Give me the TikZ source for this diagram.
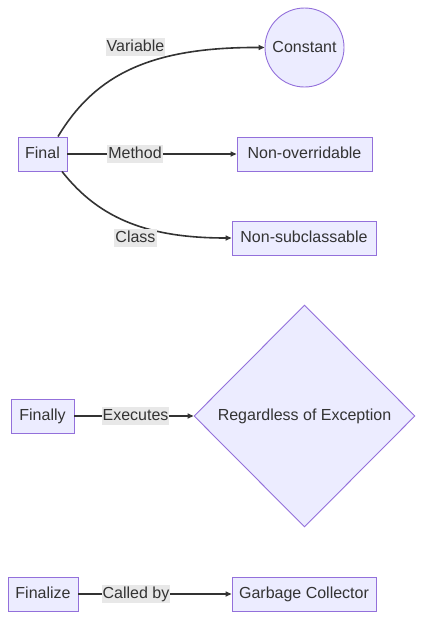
\documentclass[tikz,border=0pt]{standalone}
\usepackage{fontspec}
\setmainfont{Liberation Sans}
\usetikzlibrary{shapes.geometric,arrows.meta}
\definecolor{nodefill}{HTML}{ECECFF}
\definecolor{nodeline}{HTML}{9370DB}
\definecolor{edgecol}{HTML}{333333}
\definecolor{lblbg}{HTML}{E8E8E8}
\tikzset{
  txt/.style={font=\fontsize{16}{19}\selectfont, text=edgecol, text height=12.5pt, text depth=3pt},
  box/.style={txt, draw=nodeline, fill=nodefill, line width=0.9pt, rectangle, minimum height=34pt, inner xsep=7pt},
  circ/.style={txt, draw=nodeline, fill=nodefill, line width=0.9pt, circle, minimum size=79pt, inner sep=0pt},
  diam/.style={txt, draw=nodeline, fill=nodefill, line width=0.9pt, diamond, minimum width=221pt, minimum height=222pt, inner sep=0pt},
  lbl/.style={txt, fill=lblbg, inner xsep=1pt, inner ysep=1.5pt},
  edge/.style={draw=edgecol, line width=1.6pt, -{Triangle[length=6pt,width=5pt]}}
}
\begin{document}
\begin{tikzpicture}[x=1pt,y=1pt]
\useasboundingbox (0,0) rectangle (423,-619);
% nodes
\node[box, minimum width=49pt, inner xsep=0pt] (final) at (42.5,-154) {Final};
\node[circ] (const) at (304.5,-47.5) {Constant};
\node[box, minimum width=135pt] (nonover) at (304.5,-154) {Non-overridable};
\node[box, minimum width=144pt] (nonsub) at (304,-238) {Non-subclassable};
\node[box, minimum width=63pt, inner xsep=0pt] (finally) at (42.5,-416) {Finally};
\node[diam] (regard) at (304.5,-416) {Regardless of Exception};
\node[box, minimum width=70pt, inner xsep=0pt] (finalize) at (43,-594) {Finalize};
\node[box, minimum width=144pt] (gc) at (304,-594) {Garbage Collector};
% edges
\draw[edge] (final.north) ++(15.5,0) coordinate (fv) (fv) .. controls (95,-75) and (150,-47) .. (const.west);
\draw[edge] (final.east) -- (nonover.west);
\draw[edge] (final.south) ++(19.5,0) coordinate (fc) (fc) .. controls (100,-220) and (150,-238) .. (nonsub.west);
\draw[edge] (finally.east) -- (regard.west);
\draw[edge] (finalize.east) -- (gc.west);
% labels
\node[lbl] (lv) at (135.5,-47) {Variable};
\node[lbl] (lm) at (135,-154) {Method};
\node[lbl] (lc) at (135.5,-238) {Class};
\node[lbl] (le) at (135.5,-416) {Executes};
\node[lbl] (lb) at (136,-594) {Called by};
\end{tikzpicture}
\end{document}
